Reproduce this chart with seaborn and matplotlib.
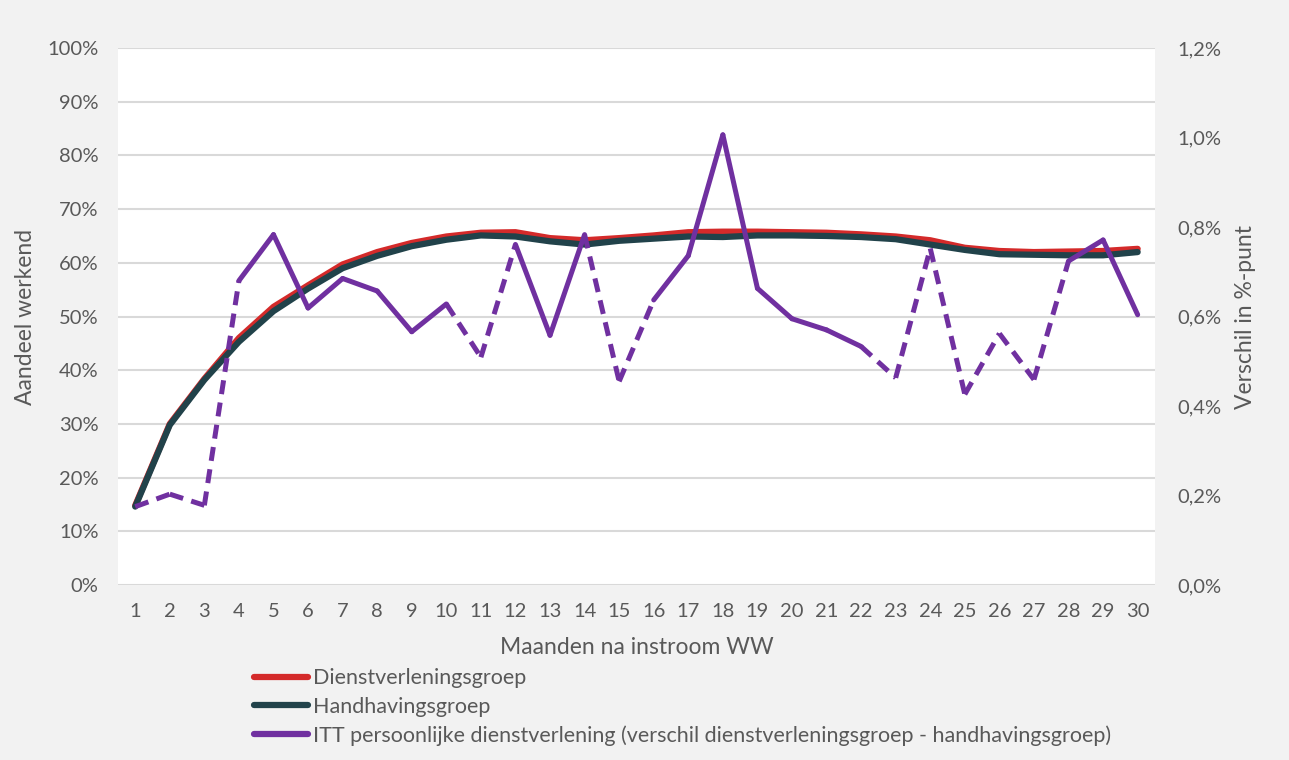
import numpy as np
import pandas as pd
import seaborn as sns
import matplotlib.ticker as mtick
from matplotlib import pyplot as plt
from matplotlib.lines import Line2D

maanden = list(range(1, 31))

dienstverlening = [14.8, 30.0, 38.4, 46.0, 51.8, 55.8, 59.7, 62.0, 63.7, 64.9,
                   65.6, 65.7, 64.6, 64.2, 64.6, 65.1, 65.7, 65.8, 65.8, 65.7,
                   65.6, 65.3, 64.9, 64.2, 62.8, 62.2, 62.0, 62.1, 62.2, 62.6]
handhaving = [14.6, 29.8, 38.2, 45.3, 51.0, 55.2, 59.0, 61.3, 63.1, 64.3,
              65.1, 64.9, 64.0, 63.4, 64.1, 64.5, 64.9, 64.8, 65.1, 65.1,
              65.0, 64.8, 64.4, 63.4, 62.4, 61.6, 61.5, 61.4, 61.4, 62.0]
verschil = [0.175, 0.203, 0.178, 0.680, 0.783, 0.619, 0.685, 0.657, 0.566, 0.628,
            0.509, 0.761, 0.558, 0.783, 0.455, 0.637, 0.736, 1.006, 0.663, 0.595,
            0.570, 0.533, 0.463, 0.752, 0.426, 0.562, 0.459, 0.724, 0.771, 0.604]
# months where the difference is not significant (drawn dashed)
niet_significant = [1, 2, 3, 11, 15, 23, 25, 26, 27]

RED = '#d42a2a'
GREEN = '#21424a'
PURPLE = '#7030a0'
TEXT = '#595959'
GRID = '#d9d9d9'

df = pd.DataFrame({'maand': maanden, 'dienst': dienstverlening,
                   'handhaving': handhaving, 'verschil': verschil})

sns.set_style('white')
plt.rcParams['font.family'] = ['Lato', 'DejaVu Sans']

fig = plt.figure(figsize=(12.89, 7.6), dpi=100, facecolor='#f2f2f2')
ax = fig.add_axes([0.0915, 0.2303, 0.8045, 0.7065])
ax.set_facecolor('white')

sns.lineplot(data=df, x='maand', y='dienst', color=RED, lw=4.5, ax=ax)
sns.lineplot(data=df, x='maand', y='handhaving', color=GREEN, lw=4.5, ax=ax)

ax.set_xlim(0.5, 30.5)
ax.set_ylim(0, 100)
ax.yaxis.set_major_locator(mtick.MultipleLocator(10))
ax.yaxis.set_major_formatter(mtick.PercentFormatter(100, decimals=0))
ax.set_xticks(maanden)
ax.grid(axis='y', color=GRID, lw=1.5)
ax.set_axisbelow(True)
for s in ax.spines.values():
    s.set_visible(False)
ax.tick_params(axis='y', length=0, labelsize=14.5, colors=TEXT, pad=14)
ax.tick_params(axis='x', length=0, labelsize=14.5, colors=TEXT, pad=13)
ax.set_xlabel('Maanden na instroom WW', fontsize=16.5, color=TEXT, labelpad=12)
ax.set_ylabel('Aandeel werkend', fontsize=16.5, color=TEXT, labelpad=8)

ax2 = ax.twinx()
for i in range(len(maanden) - 1):
    seg = df.iloc[i:i + 2]
    dashed = maanden[i] in niet_significant or maanden[i + 1] in niet_significant
    line = sns.lineplot(data=seg, x='maand', y='verschil', color=PURPLE, lw=3.6,
                        ax=ax2, legend=False).lines[-1]
    line.set_solid_capstyle('round')
    if dashed:
        line.set_dashes((2.8, 1.7))

ax2.set_ylim(0, 1.2)
ax2.yaxis.set_major_locator(mtick.MultipleLocator(0.2))
ax2.yaxis.set_major_formatter(mtick.FuncFormatter(lambda v, p: f'{v:.1f}%'.replace('.', ',')))
for s in ax2.spines.values():
    s.set_visible(False)
ax2.tick_params(length=0, labelsize=14.5, colors=TEXT, pad=16)
ax2.set_ylabel('Verschil in %-punt', fontsize=16.5, color=TEXT, labelpad=10)
ax2.set_xlim(0.5, 30.5)

handles = [Line2D([], [], color=RED, lw=4.5, solid_capstyle='round'),
           Line2D([], [], color=GREEN, lw=4.5, solid_capstyle='round'),
           Line2D([], [], color=PURPLE, lw=4.5, solid_capstyle='round')]
labels = ['Dienstverleningsgroep', 'Handhavingsgroep',
          'ITT persoonlijke dienstverlening (verschil dienstverleningsgroep - handhavingsgroep)']
fig.legend(handles, labels, loc='upper left', bbox_to_anchor=(0.189, 0.135),
           frameon=False, fontsize=15.5, labelcolor=TEXT, handlelength=2.5,
           handletextpad=0.2, labelspacing=0.4, borderpad=0)

fig.savefig('out.png', dpi=100, facecolor=fig.get_facecolor())
